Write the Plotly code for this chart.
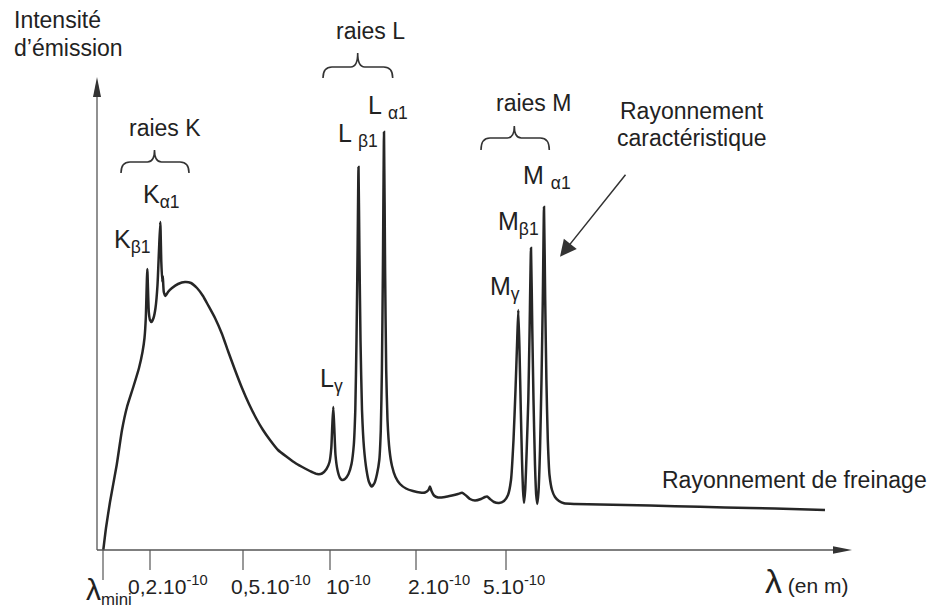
import plotly.graph_objects as go

# ---- data (x = position along the wavelength axis, y = emission intensity, arbitrary units) ----
curve_x = [103.3, 106, 110, 116.7, 122, 127, 133.3, 139, 142.5, 144.5, 145.8, 147.3, 148.8, 150, 151.5,
           153.5, 155.5, 157.5, 159, 160.3, 161.3, 162.3, 162.8, 163.8, 165.5, 168, 172, 178, 185, 191,
           197, 203, 208, 215, 222, 228, 235, 242, 249, 256, 263, 270, 278, 287, 296, 305, 312, 317,
           322, 326.5, 329.5, 331.3, 332.3, 333.3, 334.3, 335.5, 337.5, 340, 342, 345, 348.5, 351.5,
           353.8, 355.3, 356.5, 357.6, 358.5, 359.4, 360.5, 362, 364, 366.5, 369, 371.7, 374.5, 377,
           379.3, 380.8, 381.9, 382.9, 384, 385.1, 386.2, 387.5, 389.5, 392, 395.5, 400, 406, 413, 420,
           425, 428.5, 430, 431.5, 434, 438, 445, 452, 458, 462, 466, 470, 475, 481, 485, 487, 490, 494,
           499, 504, 508, 511, 513.5, 515.5, 517.2, 518.3, 519.5, 520.8, 522, 523, 524, 525.2, 526.7,
           528.3, 529.6, 531, 532.3, 533.5, 535, 536.2, 537.3, 538.5, 540, 541.5, 542.8, 544, 545.2,
           546.4, 547.8, 549.5, 552, 555, 559, 564, 575, 600, 650, 700, 750, 800, 825]
curve_y = [0, 22, 48, 85, 120, 143, 163, 182, 198, 212, 232, 281, 238, 230, 228,
           232, 242, 265, 300, 328, 288, 268, 274, 258, 254, 258, 262, 266, 268, 267,
           262, 254, 245, 232, 216, 199, 180, 162, 146, 132, 120, 110, 100, 93, 86.5, 81.5, 78, 76,
           76.5, 81, 88, 102, 125, 143, 122, 95, 80, 72, 70, 71, 76, 86,
           105, 140, 210, 300, 383, 300, 210, 140, 102, 80, 68, 63.5, 67, 76,
           90, 120, 180, 280, 418, 280, 180, 130, 100, 84, 73, 66, 61.5, 59, 57.5,
           57.5, 60, 63.5, 59, 54.5, 52.5, 53, 54.5, 56, 57.2, 54.5, 51, 49.5, 51, 53, 53.5, 51, 48,
           47, 49, 55, 70, 110, 160, 210, 240, 200, 140, 90, 60, 47, 60, 100,
           150, 220, 302, 220, 150, 85, 55, 46, 58, 100, 170, 250, 343, 250,
           170, 110, 75, 60, 53, 49, 46.7, 46, 45.5, 44.5, 43.2, 42, 40.8, 40]

tick_pos = [103, 150, 243, 330, 416, 506]
tick_labels = ["λ<sub>mini</sub>", "0,2.10<sup>-10</sup>", "0,5.10<sup>-10</sup>",
               "10<sup>-10</sup>", "2.10<sup>-10</sup>", "5.10<sup>-10</sup>"]

peak_labels = ["K<sub>β1</sub>", "K<sub>α1</sub>", "L<sub>γ</sub>", "L <sub>β1</sub>", "L <sub>α1</sub>",
               "M<sub>γ</sub>", "M<sub>β1</sub>", "M <sub>α1</sub>"]
peak_label_x = [112, 140.5, 317.5, 336, 366, 487.5, 496, 521]
peak_label_y = [309, 354, 170, 415, 443, 262, 327, 373]

AX = "#555555"
TXT = "#222222"
FONT = "Liberation Sans, Arial, sans-serif"

fig = go.Figure()
fig.add_trace(go.Scatter(x=curve_x, y=curve_y, mode="lines",
                         line=dict(color="#262626", width=2.5, shape="spline", smoothing=0.5),
                         hoverinfo="skip", showlegend=False))

shapes = []
# axes
shapes.append(dict(type="line", x0=97, x1=836, y0=0, y1=0, line=dict(color=AX, width=1.3)))
shapes.append(dict(type="line", x0=97, x1=97, y0=0, y1=456, line=dict(color=AX, width=1.3)))
shapes.append(dict(type="path", path="M 852,0 L 833,3.8 L 833,-3.8 Z", fillcolor="#333", line=dict(width=0)))
shapes.append(dict(type="path", path="M 97,473 L 93,453 L 101,453 Z", fillcolor="#333", line=dict(width=0)))
# ticks
for i, t in enumerate(tick_pos):
    ln = 30 if i == 0 else 20
    shapes.append(dict(type="line", x0=t, x1=t, y0=0, y1=-ln, line=dict(color=AX, width=1.2)))

# braces
def brace(x0, x1, xm, yend, yh, ytip):
    r = 9
    return dict(type="path",
                path=(f"M {x0},{yend} Q {x0},{yh} {x0+r},{yh} L {xm-7},{yh} Q {xm},{yh} {xm},{ytip} "
                      f"Q {xm},{yh} {xm+7},{yh} L {x1-r},{yh} Q {x1},{yh} {x1},{yend}"),
                line=dict(color="#333", width=1.6))

shapes.append(brace(121, 189, 154.5, 377, 388, 400))
shapes.append(brace(323, 392.7, 357.7, 472, 483, 497))
shapes.append(brace(481, 549.3, 514.3, 400, 412, 424))

ann = []
def txt(x, y, s, size=23, xanchor="left"):
    ann.append(dict(x=x, y=y, text=s, showarrow=False, xanchor=xanchor, yanchor="middle",
                    font=dict(family=FONT, size=size, color=TXT)))

txt(12, 530, "Intensité")
txt(12, 502, "d’émission")
txt(165, 422, "raies K", xanchor="center")
txt(370, 519, "raies L", xanchor="center")
txt(533, 447, "raies M", xanchor="center")
txt(691.5, 439, "Rayonnement", xanchor="center")
txt(691.5, 412, "caractéristique", xanchor="center")
txt(660, 70, "Rayonnement de freinage")
for s, x, y in zip(peak_labels, peak_label_x, peak_label_y):
    txt(x, y, s, size=25)

tick_label_x = [84, 126, 229, 324, 406, 481]
for i, (s, x) in enumerate(zip(tick_labels, tick_label_x)):
    if i == 0:
        txt(x, -41, "<span style='font-size:30px'>λ</span><sub>mini</sub>", size=24)
    else:
        txt(x, -35, s, size=21)
txt(763, -31, "<span style='font-size:34px'>λ</span> (en m)", size=21)

ann.append(dict(x=560, y=293.3, ax=626.7, ay=376.7, xref="x", yref="y", axref="x", ayref="y",
                text="", showarrow=True, arrowhead=2, arrowsize=2.2, arrowwidth=1.5, arrowcolor="#333"))

fig.update_layout(width=934, height=609, autosize=False,
                  margin=dict(l=0, r=0, t=0, b=0),
                  paper_bgcolor="white", plot_bgcolor="white",
                  xaxis=dict(range=[0, 934], visible=False, fixedrange=True),
                  yaxis=dict(range=[-59, 550], visible=False, fixedrange=True),
                  shapes=shapes, annotations=ann, showlegend=False)

fig.write_html("out.html", config={"displayModeBar": False},
               post_script="document.body.style.margin='0';")
